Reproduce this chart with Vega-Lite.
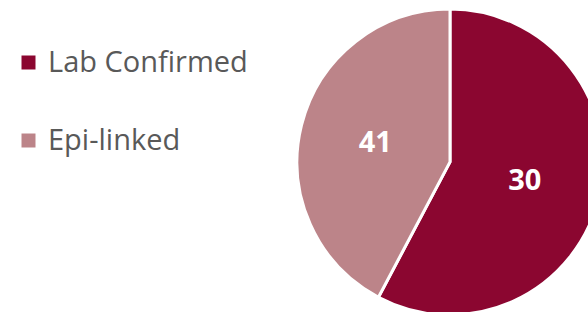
{
  "$schema": "https://vega.github.io/schema/vega-lite/v6.json",
  "autosize": "none",
  "padding": 0,
  "width": 900,
  "height": 324,
  "background": "white",
  "data": {
    "values": [
      {"category": "Lab Confirmed", "count": 41, "label": "30"},
      {"category": "Epi-linked", "count": 30, "label": "41"}
    ]
  },
  "encoding": {
    "theta": {"field": "count", "type": "quantitative", "stack": true},
    "order": {"field": "count", "type": "quantitative", "sort": "descending"}
  },
  "layer": [
    {
      "mark": {"type": "arc", "outerRadius": 153, "stroke": "white", "strokeWidth": 3},
      "encoding": {
        "color": {
          "field": "category",
          "type": "nominal",
          "scale": {"domain": ["Lab Confirmed", "Epi-linked"], "range": ["#8B0630", "#BC8489"]},
          "legend": {
            "title": null,
            "orient": "none",
            "legendX": 14,
            "legendY": 48,
            "symbolType": "square",
            "symbolSize": 196,
            "symbolStrokeWidth": 0,
            "labelFont": "Open Sans",
            "labelFontSize": 29,
            "labelColor": "#595959",
            "labelLimit": 400,
            "rowPadding": 48,
            "labelOffset": 5
          }
        }
      }
    },
    {
      "mark": {"type": "text", "radius": 77, "font": "Open Sans", "fontSize": 29, "fontWeight": "bold", "fill": "white"},
      "encoding": {"text": {"field": "label", "type": "nominal"}}
    }
  ]
}
